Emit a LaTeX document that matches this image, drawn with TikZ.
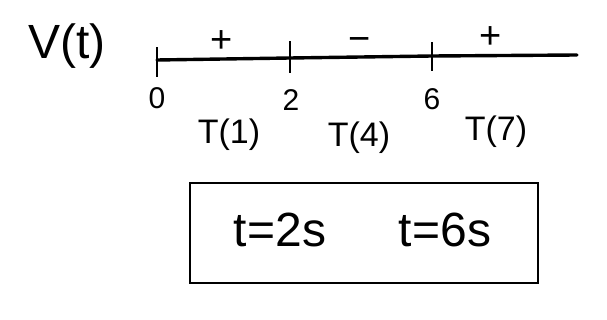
\documentclass[tikz,border=0pt]{standalone}
\usepackage{fontspec}
\setmainfont{Liberation Sans}
\usepackage{tikz}
\usetikzlibrary{positioning}
\tikzset{
  axis/.style={line width=3.4pt, line cap=round},
  tick/.style={line width=2.6pt},
  lbl/.style={inner sep=0pt, font=\fontsize{30}{32}\selectfont},
  sgn/.style={inner sep=0pt, font=\fontsize{38}{40}\selectfont},
  interval/.style={inner sep=0pt, font=\fontsize{34}{36}\selectfont},
  big/.style={inner sep=0pt, font=\fontsize{48}{50}\selectfont},
  ansbox/.style={draw, line width=2.6pt, minimum width=348pt, minimum height=100pt}
}
\begin{document}
\begin{tikzpicture}[x=1pt, y=-1pt]
  \useasboundingbox (0,0) rectangle (607,320);
  % number line
  \coordinate (t0) at (157,60);
  \coordinate (t2) at (290,58);
  \coordinate (t6) at (432,56);
  \coordinate (tend) at (577,55);
  \draw[axis] (t0) -- (t2) -- (t6) -- (tend);
  \draw[tick] ([yshift=-17pt]t0) -- ([yshift=13pt]t0);
  \draw[tick] ([yshift=-15pt]t2) -- ([yshift=17pt]t2);
  \draw[tick] ([yshift=-15pt]t6) -- ([yshift=14pt]t6);

  \node[big] (v) at (67,46) {V(t)};
  \node[lbl] (n0) at (157,98) {0};
  \node[lbl] (n2) at (291,100) {2};
  \node[lbl] (n6) at (432,99) {6};

  \node[sgn] (s1) at (222,42) {+};
  \node[sgn] (s2) at (360,45) {−};
  \node[sgn] (s3) at (491,38) {+};

  \node[interval] (i1) at (229,135) {T(1)};
  \node[interval] (i2) at (359,138) {T(4)};
  \node[interval] (i3) at (496,132) {T(7)};

  % answer
  \node[ansbox] (ans) at (364,233) {};
  \node[big] (r1) at (280,230) {t=2s};
  \node[big] (r2) at (445,230) {t=6s};
\end{tikzpicture}
\end{document}
